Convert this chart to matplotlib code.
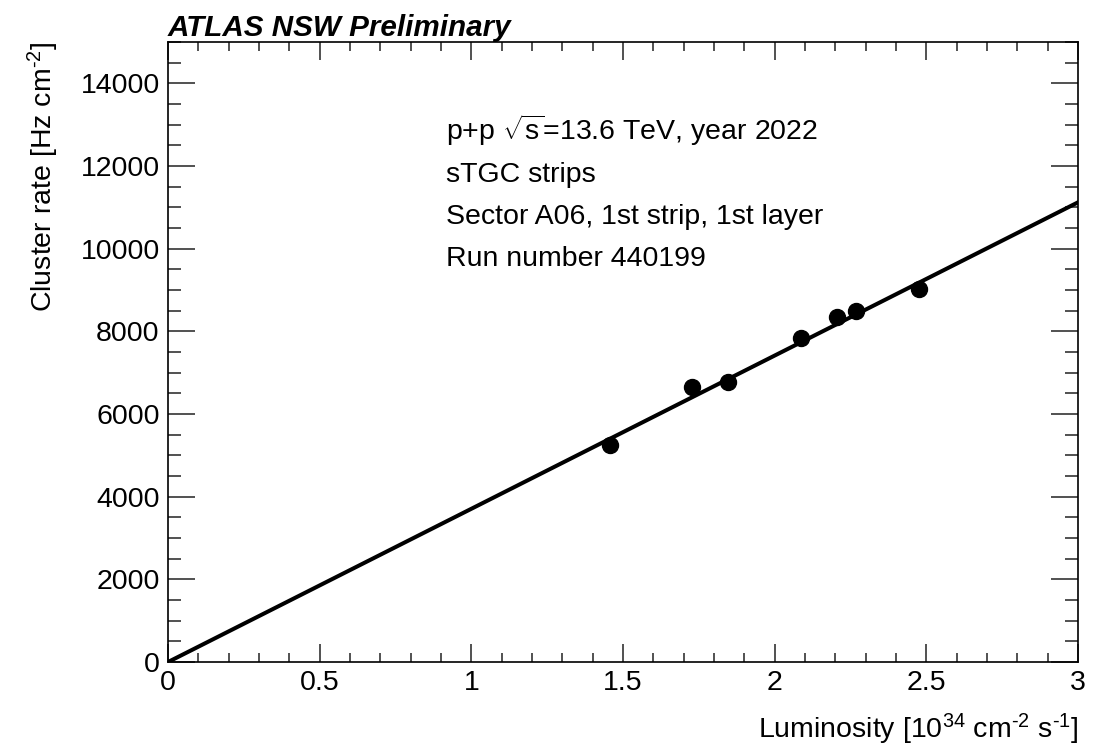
import numpy as np
import matplotlib
matplotlib.use('Agg')
import matplotlib.pyplot as plt
from matplotlib.ticker import MultipleLocator, FormatStrFormatter

# данные
lumi = [1.457, 1.728, 1.846, 2.087, 2.206, 2.268, 2.476]
rate = [5250, 6650, 6775, 7840, 8345, 8490, 9025]
fit_x = [0.0, 3.0]
slope = 3707.0

info_lines = ['p+p $\\sqrt{\\mathrm{s}}$=13.6 TeV, year 2022',
              'sTGC strips',
              'Sector A06, 1st strip, 1st layer',
              'Run number 440199']

plt.rcParams['font.family'] = ['Liberation Sans', 'DejaVu Sans']
plt.rcParams['mathtext.fontset'] = 'custom'
plt.rcParams['mathtext.rm'] = 'Liberation Sans'
plt.rcParams['mathtext.it'] = 'Liberation Sans:italic'

fig = plt.figure(figsize=(11.1, 7.51), dpi=100)
ax = fig.add_axes([0.1514, 0.1185, 0.8198, 0.8256])

fx = np.array(fit_x)
ax.plot(fx, slope * fx, color='black', lw=2.9, zorder=2)
ax.plot(lumi, rate, 'o', color='black', ms=11.5, zorder=3)

ax.set_xlim(0, 3)
ax.set_ylim(0, 15000)
ax.xaxis.set_major_locator(MultipleLocator(0.5))
ax.xaxis.set_minor_locator(MultipleLocator(0.1))
ax.yaxis.set_major_locator(MultipleLocator(2000))
ax.yaxis.set_minor_locator(MultipleLocator(500))
ax.xaxis.set_major_formatter(FormatStrFormatter('%g'))

ax.tick_params(which='both', direction='in', top=True, right=True,
               labelsize=20.5, width=1.1, color='#222222')
ax.tick_params(axis='x', which='major', length=13, pad=6)
ax.tick_params(axis='x', which='minor', length=6.5)
ax.tick_params(axis='y', which='major', length=19.5, pad=6)
ax.tick_params(axis='y', which='minor', length=9.5)
for s in ax.spines.values():
    s.set_linewidth(1.2)

ax.set_xlabel('Luminosity [10$^{34}$ cm$^{\\text{-2}}$ s$^{\\text{-1}}$]',
              fontsize=20.5, loc='right', labelpad=11)
ax.set_ylabel('Cluster rate [Hz cm$^{\\text{-2}}$]', fontsize=20.5,
              loc='top', labelpad=14)

fig.text(0.151, 0.952, 'ATLAS NSW Preliminary', fontsize=21.3,
         fontweight='bold', style='italic', va='baseline')

for i, t in enumerate(info_lines):
    ax.text(0.3055, 0.842 - i * 0.0677, t, transform=ax.transAxes,
            fontsize=20.5, va='baseline')

fig.savefig('out.png', dpi=100)
